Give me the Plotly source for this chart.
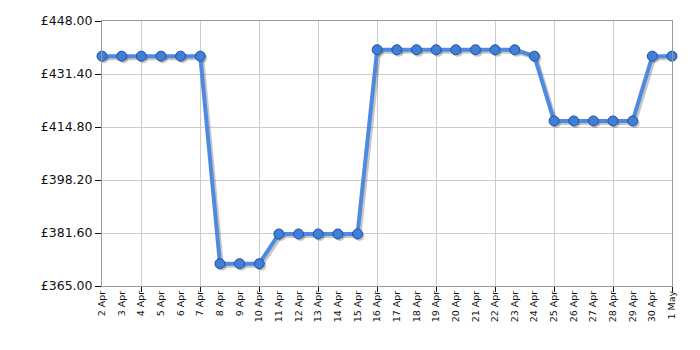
import plotly.graph_objects as go

dates = ["2 Apr", "3 Apr", "4 Apr", "5 Apr", "6 Apr", "7 Apr", "8 Apr", "9 Apr", "10 Apr",
         "11 Apr", "12 Apr", "13 Apr", "14 Apr", "15 Apr", "16 Apr", "17 Apr", "18 Apr",
         "19 Apr", "20 Apr", "21 Apr", "22 Apr", "23 Apr", "24 Apr", "25 Apr", "26 Apr",
         "27 Apr", "28 Apr", "29 Apr", "30 Apr", "1 May"]
prices = [436.99, 436.99, 436.99, 436.99, 436.99, 436.99,
          371.99, 371.99, 371.99,
          381.30, 381.30, 381.30, 381.30, 381.30,
          438.99, 438.99, 438.99, 438.99, 438.99, 438.99, 438.99, 438.99,
          436.99,
          416.70, 416.70, 416.70, 416.70, 416.70,
          436.99, 436.99]
y_ticks = [365.00, 381.60, 398.20, 414.80, 431.40, 448.00]
grid_dates = ["4 Apr", "7 Apr", "10 Apr", "13 Apr", "16 Apr", "19 Apr", "22 Apr",
              "25 Apr", "28 Apr", "1 May"]

idx = list(range(len(dates)))
grid_idx = [dates.index(d) for d in grid_dates]
ymin, ymax = 365.0, 448.0
n = len(dates) - 1

font = "DejaVu Sans, Verdana, sans-serif"
fig = go.Figure()

# invisible trace on the base axes so that all date labels are drawn
fig.add_trace(go.Scatter(
    x=idx, y=prices, xaxis="x", yaxis="y", mode="markers",
    marker=dict(opacity=0), hoverinfo="skip", showlegend=False))

# shadow trace (drawn on slightly shifted overlay axes)
fig.add_trace(go.Scatter(
    x=idx, y=prices, mode="lines+markers", xaxis="x2", yaxis="y2",
    line=dict(color="rgba(0,0,0,0.22)", width=4),
    marker=dict(size=10, color="rgba(0,0,0,0.22)", line=dict(width=0)),
    cliponaxis=False, hoverinfo="skip", showlegend=False))

# main trace (on the top overlay axis so it sits above the shadow)
fig.add_trace(go.Scatter(
    x=idx, y=prices, mode="lines+markers", xaxis="x3", yaxis="y3",
    line=dict(color="#4f8ae2", width=4),
    marker=dict(size=10, color="#3f7fd8",
                line=dict(color="#24509a", width=1)),
    cliponaxis=False, showlegend=False))

fig.update_layout(
    width=700, height=350,
    margin=dict(l=102, r=28, t=21, b=64),
    paper_bgcolor="white", plot_bgcolor="white",
    font=dict(family=font, color="#111"),
    xaxis=dict(
        range=[0, n], tickmode="array", tickvals=idx, ticktext=dates,
        tickangle=-90, tickfont=dict(size=9.5, family=font, color="#111"),
        showgrid=False, zeroline=False, ticks="",
        showline=True, linecolor="#9a9a9a", linewidth=1, mirror=True),
    yaxis=dict(
        range=[ymin, ymax], tickmode="array", tickvals=y_ticks,
        ticktext=["£%.2f" % v for v in y_ticks],
        tickfont=dict(size=12.5, family=font, color="#111"),
        ticks="outside", ticklen=6, tickcolor="#111",
        showgrid=True, gridcolor="#cccccc", gridwidth=1, zeroline=False,
        showline=True, linecolor="#9a9a9a", linewidth=1, mirror=True),
    xaxis2=dict(range=[-0.1, n - 0.1], overlaying="x", anchor="y2", visible=False),
    yaxis2=dict(range=[ymin + 0.65, ymax + 0.65], overlaying="y", anchor="x2", visible=False),
    xaxis3=dict(
        range=[0, n], overlaying="x", anchor="y3", tickmode="array", tickvals=grid_idx,
        showticklabels=False, ticks="outside", ticklen=5, tickcolor="#111",
        showgrid=True, gridcolor="#cccccc", gridwidth=1, zeroline=False,
        showline=False, side="bottom"),
    yaxis3=dict(range=[ymin, ymax], overlaying="y", anchor="x3", visible=False),
)

fig.write_html("out.html")
